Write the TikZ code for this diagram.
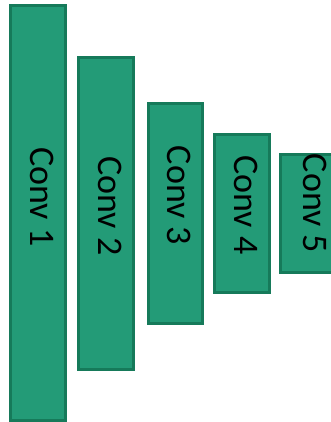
\documentclass[tikz,border=0pt]{standalone}
\usepackage{fontspec}
\setmainfont{Carlito}
\usepackage{tikz}
\usetikzlibrary{positioning}
\definecolor{convfill}{RGB}{35,155,119}
\definecolor{convedge}{RGB}{22,122,90}
\tikzset{
    %Define style for the conv blocks
    convbox/.style={
           rectangle,
           draw=convedge, line width=2.5pt,
           fill=convfill,
           inner sep=0pt},
    %Define style for the rotated block names
    convtxt/.style={
           rotate=-90,
           inner sep=0pt,
           font=\fontsize{36}{40}\selectfont}
}

\begin{document}
\begin{tikzpicture}[x=1pt, y=-1pt]
    % PAGE
    \useasboundingbox (0,0) rectangle (331,422);

    % BLOCKS
    \node[convbox, minimum width=55pt, minimum height=415pt] at (38,213) (conv1) {};
    \node[convbox, minimum width=55pt, minimum height=312pt] at (106,213.5) (conv2) {};
    \node[convbox, minimum width=54pt, minimum height=220pt] at (175.5,213.5) (conv3) {};
    \node[convbox, minimum width=55pt, minimum height=158pt] at (242,213.5) (conv4) {};
    \node[convbox, minimum width=61pt, minimum height=118pt] at (311,213.5) (conv5) {};

    % NAMES
    \node[convtxt] at ([xshift=4pt, yshift=16pt]conv1.center) (name1) {Conv 1};
    \node[convtxt] at ([xshift=4pt, yshift=7.5pt]conv2.center) (name2) {Conv 2};
    \node[convtxt] at ([xshift=4pt, yshift=18pt]conv3.center) (name3) {Conv 3};
    \node[convtxt] at ([xshift=4pt, yshift=8.5pt]conv4.center) (name4) {Conv 4};
    \node[convtxt] at ([xshift=4pt, yshift=10pt]conv5.center) (name5) {Conv 5};
\end{tikzpicture}
\end{document}
